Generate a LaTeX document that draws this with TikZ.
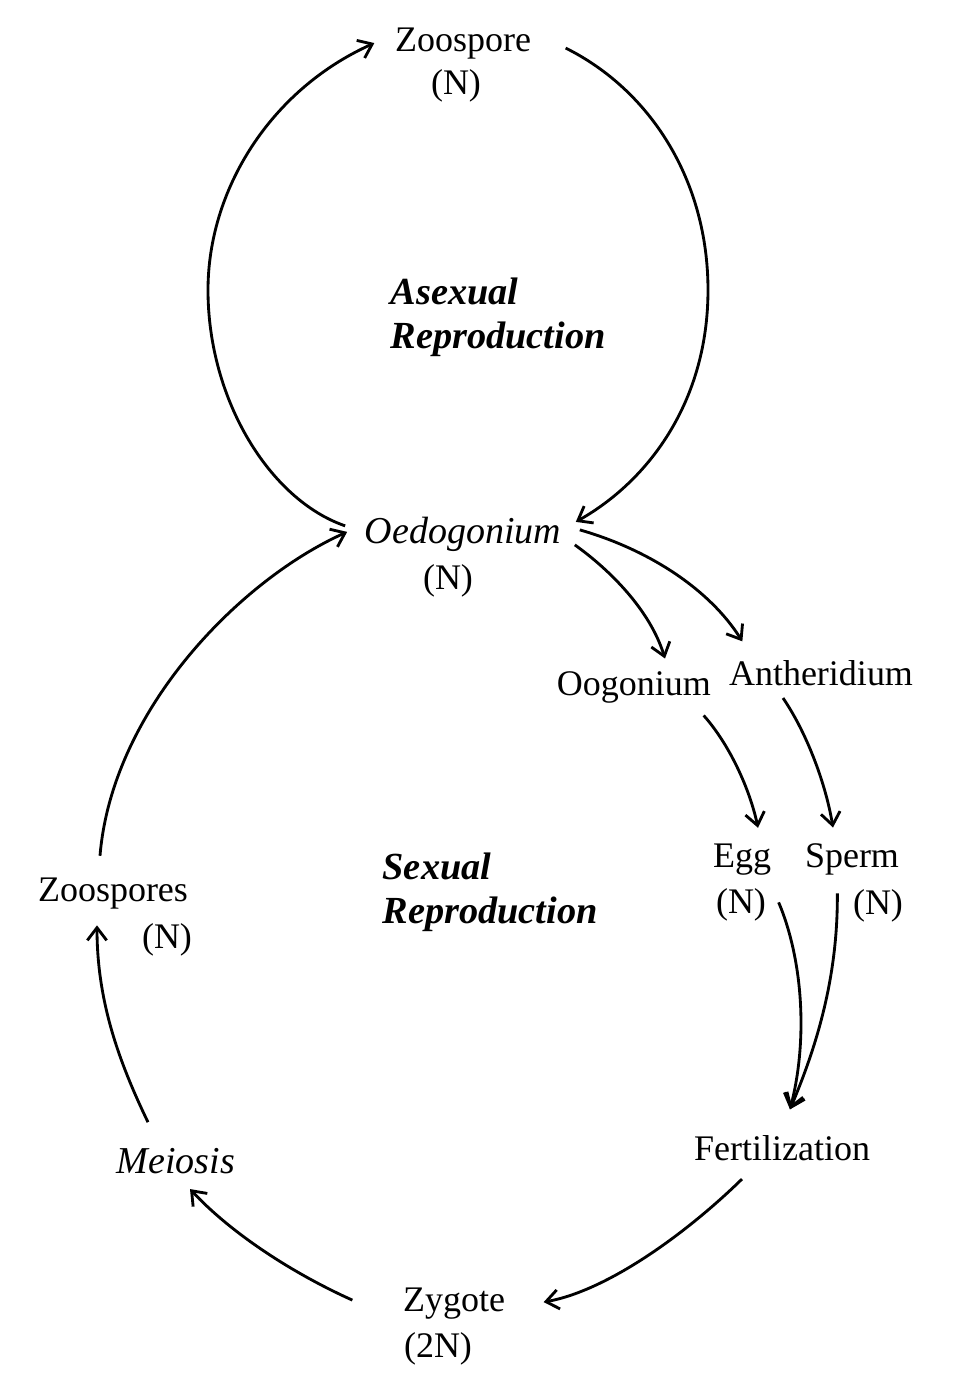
\documentclass[tikz,border=0pt]{standalone}
\usepackage{fontspec}
\setmainfont{Liberation Serif}
\usetikzlibrary{arrows.meta,calc}

\begin{document}
\begin{tikzpicture}[x=0.3pt,y=-0.3pt,>={Straight Barb[length=3.8pt,width=5.8pt]},
    lbl/.style={inner sep=0pt,anchor=base,font=\fontsize{10.8}{13}\selectfont},
    ilbl/.style={lbl,font=\fontsize{11.4}{13}\selectfont\itshape},
    phase/.style={inner sep=0pt,anchor=north west,align=left,font=\fontsize{11.5}{13.2}\selectfont\bfseries\itshape},
    arr/.style={->,line width=0.85pt}]
  \useasboundingbox (0,0) rectangle (953,1382);

  % stages
  \node[lbl]  (zsp)   at (463,51)   {Zoospore};
  \node[lbl]  (zspN)  at (456,94)   {(N)};
  \node[ilbl] (oed)   at (463,543)  {Oedogonium};
  \node[lbl]  (oedN)  at (448,589)  {(N)};
  \node[lbl]  (oog)   at (634,695)  {Oogonium};
  \node[lbl]  (anth)  at (821,685)  {Antheridium};
  \node[lbl]  (egg)   at (742,867)  {Egg};
  \node[lbl]  (eggN)  at (741,913)  {(N)};
  \node[lbl]  (spm)   at (852,867)  {Sperm};
  \node[lbl]  (spmN)  at (878,914)  {(N)};
  \node[lbl]  (fert)  at (782,1160) {Fertilization};
  \node[lbl]  (zyg)   at (454,1311) {Zygote};
  \node[lbl]  (zygN)  at (438,1357) {(2N)};
  \node[ilbl] (mei)   at (176,1173) {Meiosis};
  \node[lbl]  (zsps)  at (113,901)  {Zoospores};
  \node[lbl]  (zspsN) at (167,948)  {(N)};

  \node[phase] (asex) at (390,277) {Asexual\\Reproduction};
  \node[phase] (sex)  at (382,852) {Sexual\\Reproduction};

  % asexual loop
  \draw[arr] ($(oed.west)+(-19,-8)$) .. controls (270,500) and (208,400) .. (208,290)
    .. controls (208,190) and (270,90) .. ($(zsp.west)+(-20,0)$);
  \draw[arr] ($(zsp.east)+(34,5)$) .. controls (650,90) and (708,180) .. (708,290)
    .. controls (708,400) and (650,480) .. ($(oed.east)+(14,-12)$);

  % sexual loop
  \draw[arr] ($(oed.east)+(13,11)$) .. controls (610,570) and (650,610) .. ($(oog.north)+(31,-12)$);
  \draw[arr] ($(oed.east)+(18,-4)$) .. controls (650,550) and (710,590) .. ($(anth.north west)+(14,-18)$);
  \draw[arr] ($(oog.south east)+(-8,12)$) .. controls (730,745) and (750,790) .. ($(egg.north)+(16,-15)$);
  \draw[arr] ($(anth.south)+(-38,12)$) .. controls (805,730) and (825,780) .. ($(spm.north)+(-19,-15)$);
  \draw[arr] ($(eggN.east)+(12,-2)$) .. controls (803,960) and (808,1040) .. ($(fert.north)+(8,-25)$);
  \draw[arr] ($(spmN.west)+(-15,-12)$) .. controls (838,980) and (815,1050) .. ($(fert.north)+(8,-25)$);
  \draw[arr] ($(fert.south)+(-40,18)$) .. controls (690,1230) and (610,1290) .. ($(zyg.east)+(38,-1)$);
  \draw[arr] ($(zyg.west)+(-50,-3)$) .. controls (290,1272) and (230,1232) .. ($(mei.south)+(14,15)$);
  \draw[arr] ($(mei.north)+(-28,-25)$) .. controls (118,1060) and (97,1000) .. ($(zsps.south)+(-16,16)$);
  \draw[arr] ($(zsps.north)+(-13,-21)$) .. controls (112,710) and (240,580) .. ($(oed.west)+(-17,-2)$);
\end{tikzpicture}
\end{document}
